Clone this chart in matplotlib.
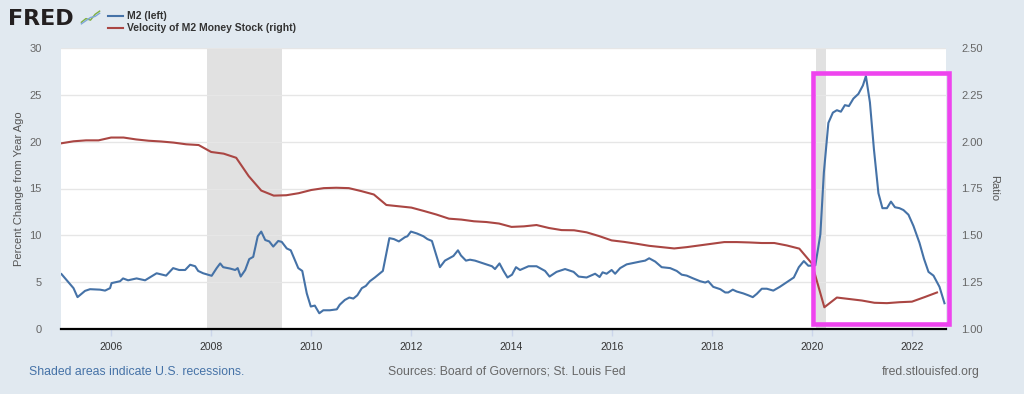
import matplotlib
matplotlib.use("Agg")
import matplotlib.pyplot as plt
from matplotlib.patches import Rectangle
from matplotlib.lines import Line2D

plt.rcParams["font.family"] = ["Liberation Sans", "DejaVu Sans"]

# M2, percent change from year ago (left axis)
m2_year = [
    2005.01, 2005.25, 2005.33, 2005.48, 2005.58, 2005.78, 2005.88, 2005.98,
    2006.01, 2006.18, 2006.24, 2006.34, 2006.51, 2006.68, 2006.91, 2007.10,
    2007.24, 2007.36, 2007.48, 2007.58, 2007.68, 2007.74, 2007.84, 2008.01,
    2008.11, 2008.18, 2008.24, 2008.38, 2008.48, 2008.53, 2008.59, 2008.68,
    2008.76, 2008.84, 2008.93, 2009.00, 2009.08, 2009.16, 2009.24, 2009.34,
    2009.41, 2009.51, 2009.59, 2009.74, 2009.82, 2009.91, 2009.99, 2010.07,
    2010.16, 2010.24, 2010.37, 2010.51, 2010.57, 2010.67, 2010.76, 2010.84,
    2010.92, 2011.01, 2011.09, 2011.17, 2011.27, 2011.34, 2011.43, 2011.56,
    2011.65, 2011.75, 2011.87, 2011.92, 2011.99, 2012.11, 2012.24, 2012.32,
    2012.41, 2012.57, 2012.67, 2012.77, 2012.84, 2012.93, 2012.99, 2013.09,
    2013.17, 2013.27, 2013.44, 2013.61, 2013.67, 2013.76, 2013.84, 2013.92,
    2014.01, 2014.09, 2014.17, 2014.34, 2014.50, 2014.67, 2014.76, 2014.90,
    2015.07, 2015.24, 2015.34, 2015.50, 2015.67, 2015.76, 2015.82, 2015.90,
    2016.00, 2016.07, 2016.17, 2016.30, 2016.43, 2016.57, 2016.67, 2016.75,
    2016.87, 2017.00, 2017.17, 2017.30, 2017.40, 2017.50, 2017.63, 2017.77,
    2017.87, 2017.93, 2018.03, 2018.17, 2018.27, 2018.33, 2018.42, 2018.50,
    2018.63, 2018.73, 2018.82, 2018.90, 2019.00, 2019.10, 2019.23, 2019.36,
    2019.50, 2019.64, 2019.74, 2019.84, 2019.93, 2020.07, 2020.17, 2020.24,
    2020.33, 2020.42, 2020.50, 2020.58, 2020.66, 2020.74, 2020.83, 2020.93,
    2021.02, 2021.08, 2021.16, 2021.24, 2021.33, 2021.41, 2021.50, 2021.58,
    2021.66, 2021.75, 2021.83, 2021.93, 2022.03, 2022.15, 2022.24, 2022.33,
    2022.43, 2022.55, 2022.65,
]
m2_pct = [
    5.86, 4.36, 3.40, 4.07, 4.25, 4.20, 4.10, 4.36,
    4.90, 5.10, 5.40, 5.20, 5.40, 5.20, 5.95, 5.70,
    6.50, 6.30, 6.30, 6.86, 6.70, 6.20, 5.95, 5.68,
    6.50, 7.00, 6.60, 6.45, 6.30, 6.50, 5.60, 6.30,
    7.46, 7.70, 9.90, 10.40, 9.50, 9.35, 8.80, 9.40,
    9.30, 8.60, 8.40, 6.50, 6.20, 3.80, 2.40, 2.50,
    1.68, 2.00, 2.00, 2.10, 2.60, 3.10, 3.36, 3.25,
    3.60, 4.36, 4.60, 5.10, 5.50, 5.80, 6.20, 9.70,
    9.60, 9.35, 9.80, 9.90, 10.40, 10.20, 9.90, 9.60,
    9.40, 6.60, 7.30, 7.60, 7.80, 8.40, 7.85, 7.30,
    7.40, 7.30, 7.00, 6.70, 6.40, 7.00, 6.20, 5.50,
    5.80, 6.60, 6.30, 6.70, 6.70, 6.20, 5.60, 6.10,
    6.40, 6.10, 5.60, 5.50, 5.90, 5.55, 6.05, 5.90,
    6.30, 5.90, 6.50, 6.90, 7.05, 7.20, 7.30, 7.55,
    7.20, 6.60, 6.50, 6.20, 5.80, 5.70, 5.40, 5.10,
    4.96, 5.10, 4.50, 4.25, 3.90, 3.90, 4.20, 4.00,
    3.80, 3.60, 3.40, 3.75, 4.30, 4.30, 4.10, 4.50,
    5.00, 5.50, 6.60, 7.25, 6.75, 6.80, 10.10, 16.70,
    22.00, 23.10, 23.36, 23.20, 23.90, 23.80, 24.60, 25.10,
    26.00, 27.00, 24.20, 19.20, 14.50, 12.90, 12.90, 13.60,
    13.00, 12.90, 12.70, 12.20, 11.00, 9.20, 7.50, 6.10,
    5.70, 4.50, 2.75,
]

# Velocity of M2 money stock, quarterly ratio (right axis)
vel_year = [2005 + i * 0.25 for i in range(71)]
vel_ratio = [
    1.991, 2.002, 2.007, 2.007,
    2.022, 2.022, 2.012, 2.005,
    2.001, 1.995, 1.986, 1.982,
    1.945, 1.936, 1.914, 1.816,
    1.739, 1.712, 1.714, 1.725,
    1.742, 1.752, 1.754, 1.752,
    1.736, 1.718, 1.662, 1.655,
    1.648, 1.630, 1.611, 1.589,
    1.584, 1.575, 1.571, 1.563,
    1.545, 1.548, 1.555, 1.539,
    1.528, 1.527, 1.516, 1.496,
    1.473, 1.465, 1.455, 1.444,
    1.437, 1.430, 1.437, 1.446,
    1.455, 1.464, 1.464, 1.462,
    1.459, 1.459, 1.446, 1.429,
    1.350, 1.116, 1.168, 1.160,
    1.152, 1.140, 1.138, 1.143,
    1.146, 1.170, 1.195,
]

recessions = [(2007.92, 2009.42), (2020.08, 2020.29)]
x_ticks = list(range(2006, 2023, 2))
left_ticks = [0, 5, 10, 15, 20, 25, 30]
right_ticks = [1.00, 1.25, 1.50, 1.75, 2.00, 2.25, 2.50]

blue = "#4572a7"
red = "#aa4643"
bg = "#e1e9f0"

fig = plt.figure(figsize=(10.24, 3.94), dpi=100, facecolor=bg)
ax = fig.add_axes([61 / 1024, 1 - 329 / 394, 885 / 1024, 281 / 394])
ax.set_facecolor("white")

for start, end in recessions:
    ax.axvspan(start, end, color="#e1e1e1", lw=0, zorder=0)

ax.set_xlim(2005.0, 2022.68)
ax.set_ylim(0, 30)
ax.set_yticks(left_ticks)
ax.set_xticks(x_ticks)
ax.grid(axis="y", color="#e6e6e6", lw=1, zorder=1)
ax.set_axisbelow(True)
for side in ["top", "right", "left"]:
    ax.spines[side].set_visible(False)
ax.spines["bottom"].set_color("black")
ax.spines["bottom"].set_linewidth(1.6)
ax.spines["bottom"].set_zorder(5)
ax.tick_params(axis="y", length=0, pad=14, labelsize=8, labelcolor="#666666")
ax.tick_params(axis="x", length=5, color="#ccd6eb", width=1, pad=4,
               labelsize=7.5, labelcolor="#333333")
ax.set_ylabel("Percent Change from Year Ago", fontsize=8, color="#555555", labelpad=4)

ax.plot(m2_year, m2_pct, color=blue, lw=1.5, zorder=3)

ax2 = ax.twinx()
ax2.set_ylim(1.0, 2.5)
ax2.set_yticks(right_ticks)
ax2.set_yticklabels([f"{t:.2f}" for t in right_ticks])
for side in ["top", "right", "left", "bottom"]:
    ax2.spines[side].set_visible(False)
ax2.tick_params(axis="y", length=0, pad=11, labelsize=8, labelcolor="#666666")
ax2.set_ylabel("Ratio", fontsize=8, color="#555555", rotation=270, labelpad=12)
ax2.plot(vel_year, vel_ratio, color=red, lw=1.5, zorder=3)

# header: logo and legend
fig.text(8 / 1024, 1 - 19 / 394, "FRED", fontsize=16, fontweight="bold",
         family="DejaVu Sans", color="#231f20", va="center", ha="left")
icon = fig.add_axes([80 / 1024, 1 - 26 / 394, 21 / 1024, 17 / 394])
icon.plot([0, 1, 2, 3, 4], [0.5, 1.2, 0.9, 2.0, 2.6], color="#7fb03f", lw=1)
icon.plot([0, 1, 2, 3, 4], [0.2, 0.8, 1.4, 1.6, 2.2], color="#7fa7d8", lw=1)
icon.set_xlim(-0.3, 4.3)
icon.set_ylim(-0.2, 3)
icon.axis("off")

fig.add_artist(Line2D([108 / 1024, 123 / 1024], [1 - 16 / 394] * 2, color=blue, lw=1.5))
fig.add_artist(Line2D([108 / 1024, 123 / 1024], [1 - 28 / 394] * 2, color=red, lw=1.5))
fig.text(127 / 1024, 1 - 16 / 394, "M2 (left)", fontsize=7.5, fontweight="bold",
         color="#333333", va="center")
fig.text(127 / 1024, 1 - 28 / 394, "Velocity of M2 Money Stock (right)", fontsize=7.5,
         fontweight="bold", color="#333333", va="center")

# footer
fig.text(29 / 1024, 1 - 372 / 394, "Shaded areas indicate U.S. recessions.",
         fontsize=8.8, color="#4572a7", va="center", ha="left")
fig.text(507 / 1024, 1 - 372 / 394, "Sources: Board of Governors; St. Louis Fed",
         fontsize=8.8, color="#666666", va="center", ha="center")
fig.text(980 / 1024, 1 - 372 / 394, "fred.stlouisfed.org",
         fontsize=8.8, color="#666666", va="center", ha="right")

# magenta highlight box
fig.patches.append(Rectangle((813 / 1024, 1 - 324 / 394), 135.5 / 1024, 251.5 / 394,
                             transform=fig.transFigure, fill=False,
                             edgecolor="#ee44ee", lw=3.3, zorder=10))

fig.savefig("out.png", dpi=100, facecolor=bg)
